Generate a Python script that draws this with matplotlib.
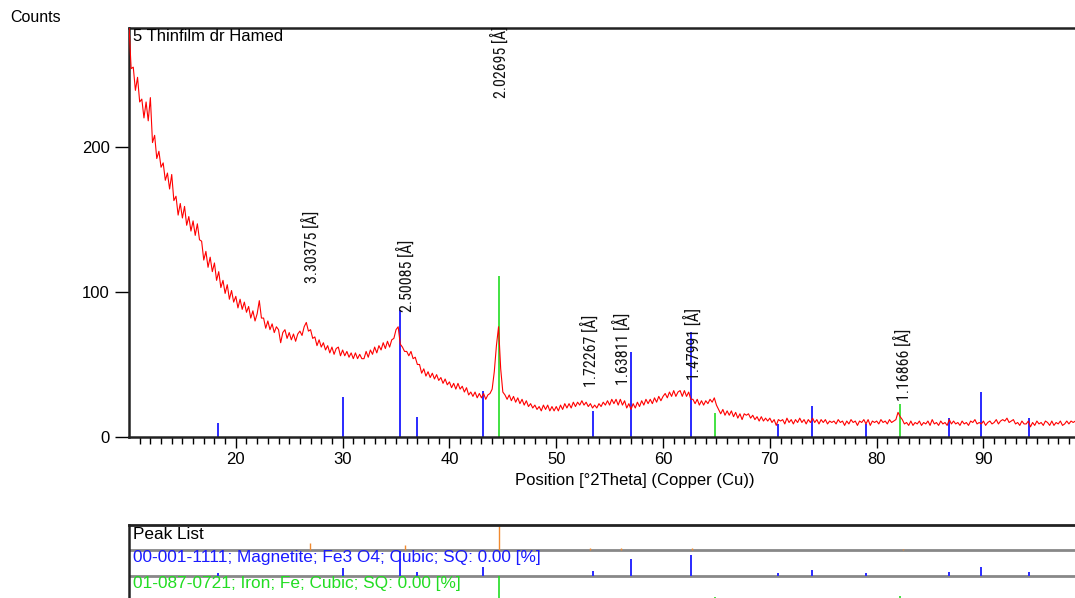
import numpy as np
import matplotlib
matplotlib.use("Agg")
import matplotlib.pyplot as plt
from matplotlib import font_manager

# measured scan, 0.2 deg step starting at 10.0 deg 2theta
scan_start = 10.0
scan_step = 0.2
counts = [
    284, 254, 255, 239, 248, 231, 233, 220, 231, 218,
    234, 203, 208, 192, 197, 186, 189, 177, 182, 171,
    181, 163, 166, 153, 161, 151, 159, 146, 152, 142,
    149, 139, 147, 136, 135, 122, 128, 117, 124, 114,
    120, 108, 114, 103, 108, 99, 105, 95, 101, 93,
    97, 89, 95, 88, 93, 86, 90, 82, 87, 80,
    85, 94, 82, 82, 75, 80, 74, 78, 72, 76,
    74, 65, 72, 74, 68, 72, 67, 71, 66, 71,
    73, 70, 76, 79, 73, 74, 68, 69, 63, 67,
    62, 65, 60, 63, 58, 62, 57, 61, 62, 56,
    60, 56, 59, 55, 58, 54, 58, 54, 57, 54,
    54, 59, 55, 60, 57, 62, 58, 63, 60, 65,
    61, 66, 62, 67, 68, 74, 76, 64, 62, 59,
    59, 56, 59, 54, 55, 50, 50, 44, 47, 42,
    45, 41, 44, 40, 43, 39, 41, 37, 40, 36,
    38, 34, 37, 33, 37, 33, 35, 31, 34, 29,
    31, 28, 31, 27, 30, 27, 30, 26, 29, 30,
    33, 45, 63, 76, 47, 31, 29, 26, 29, 25,
    28, 24, 27, 23, 26, 22, 25, 21, 23, 20,
    22, 19, 21, 18, 22, 19, 22, 18, 21, 18,
    21, 18, 22, 19, 23, 20, 23, 20, 24, 21,
    24, 22, 25, 22, 24, 21, 23, 20, 22, 20,
    23, 21, 24, 22, 25, 22, 26, 23, 26, 22,
    26, 22, 25, 20, 23, 19, 23, 20, 24, 21,
    25, 22, 26, 23, 26, 23, 27, 24, 28, 25,
    28, 30, 27, 31, 28, 32, 28, 31, 32, 28,
    32, 28, 31, 26, 26, 23, 26, 22, 25, 22,
    25, 23, 26, 24, 27, 22, 19, 16, 19, 15,
    18, 15, 18, 14, 17, 13, 16, 12, 16, 15,
    16, 13, 15, 12, 14, 11, 14, 11, 13, 11,
    13, 10, 12, 8, 12, 11, 12, 9, 13, 10,
    12, 9, 12, 10, 13, 10, 12, 9, 12, 10,
    13, 10, 12, 9, 12, 10, 12, 9, 11, 10,
    11, 9, 12, 10, 11, 8, 11, 9, 12, 10,
    11, 8, 11, 10, 12, 9, 12, 8, 11, 10,
    11, 9, 12, 10, 11, 9, 12, 10, 11, 12,
    17, 14, 12, 9, 10, 8, 11, 8, 10, 9,
    11, 8, 10, 9, 11, 8, 12, 9, 10, 8,
    11, 9, 10, 8, 12, 9, 11, 9, 10, 8,
    11, 9, 10, 8, 11, 10, 12, 9, 10, 9,
    11, 8, 10, 11, 9, 10, 12, 9, 11, 12,
    11, 13, 10, 11, 12, 9, 10, 8, 11, 9,
    9, 11, 7, 10, 8, 11, 9, 10, 8, 11,
    10, 8, 11, 8, 10, 9, 11, 8, 9, 11,
    9, 11, 10, 11,
]

# reference patterns
magnetite_pos = [18.3, 30.0, 35.4, 37.0, 43.1, 53.4, 57.0, 62.6, 70.8, 73.9, 79.0, 86.8, 89.8, 94.3]
magnetite_h = [9.7, 27.6, 87.6, 13.8, 31.5, 18.0, 58.6, 72.4, 9.0, 21.4, 9.0, 13.0, 31.0, 13.0]
iron_pos = [44.6, 64.9, 82.2]
iron_h = [111.0, 16.6, 22.8]

# peak list (observed peaks)
peak_pos = [26.97, 35.88, 44.67, 53.13, 56.10, 62.74, 82.45]
peak_d = ["3.30375", "2.50085", "2.02695", "1.72267", "1.63811", "1.47991", "1.16866"]
peak_label_y = [106, 86, 234, 34.5, 36, 39, 25]
peak_rel = [0.31, 0.23, 1.0, 0.08, 0.08, 0.08, 0.06]

red = "#ff0000"
blue = "#2a2aff"
green = "#22dd22"
orange = "#f08a30"

plt.rcParams["font.family"] = ["Liberation Sans", "DejaVu Sans"]

# narrow font for the d-spacing labels
installed = {f.name for f in font_manager.fontManager.ttflist}
lab_family = "DejaVu Sans"
for name in ["Liberation Sans Narrow", "Arial Narrow", "Roboto Condensed", "TeX Gyre Heros Cn"]:
    if name in installed:
        lab_family = name
        break
lab_fp = font_manager.FontProperties(family=[lab_family, "DejaVu Sans"], size=10)

fig = plt.figure(figsize=(10.75, 5.98), dpi=100)
W, H = 1075, 598

# scale label font so the labels are as long as in the original
probe = fig.text(0, 0, "2.50085 [Å]", fontproperties=lab_fp)
fig.canvas.draw()
lab_fp.set_size(10 * 72 / probe.get_window_extent().width)
probe.remove()

ax = fig.add_axes([129 / W, (H - 437) / H, 1 - 129 / W, (437 - 28) / H])
two_theta = scan_start + scan_step * np.arange(len(counts))
ax.plot(two_theta, counts, color=red, lw=0.8, zorder=3)
ax.vlines(magnetite_pos, 0, magnetite_h, color=blue, lw=1.4, zorder=2)
ax.vlines(iron_pos, 0, iron_h, color=green, lw=1.2, zorder=2)

for x, d, y in zip(peak_pos, peak_d, peak_label_y):
    ax.text(x, y, d + " [Å]", rotation=90, ha="center", va="bottom",
            color="#111111", zorder=4, fontproperties=lab_fp)

ax.set_xlim(10, 98.57)
ax.set_ylim(0, 282)
ax.set_xticks([20, 30, 40, 50, 60, 70, 80, 90])
ax.set_xticks(np.arange(11, 99), minor=True)
ax.set_yticks([0, 100, 200])
ax.tick_params(axis="x", which="major", direction="out", length=8, width=1, labelsize=12, pad=3)
ax.tick_params(axis="x", which="minor", direction="out", length=5, width=1)
ax.tick_params(axis="y", direction="out", length=10, width=1, labelsize=12, pad=4)
for side in ["left", "top", "bottom"]:
    ax.spines[side].set_linewidth(1.8)
    ax.spines[side].set_color("#222222")
ax.spines["right"].set_visible(False)
ax.set_xlabel("Position [°2Theta] (Copper (Cu))", fontsize=12, va="center")
ax.xaxis.set_label_coords((635 - 129) / (W - 129), -(481 - 437) / (437 - 28))
ax.text(0.004, 0.997, "5 Thinfilm dr Hamed", transform=ax.transAxes,
        ha="left", va="top", fontsize=12)
fig.text(10 / W, 1 - 18 / H, "Counts", ha="left", va="center", fontsize=11.5)

# lower panel: peak list and reference pattern rows
ax2 = fig.add_axes([129 / W, (H - 601) / H, 1 - 129 / W, 76 / H])
ax2.set_xlim(10, 98.57)
ax2.set_ylim(0, 3)
ax2.axhline(2, color="#888888", lw=2)
ax2.axhline(1, color="#888888", lw=2)
ax2.vlines(peak_pos, 2, 2 + np.array(peak_rel) * 0.98, color=orange, lw=1)
mag_rel = np.array(magnetite_h) / max(magnetite_h)
ax2.vlines(magnetite_pos, 1, 1 + mag_rel * 0.98, color=blue, lw=1.4)
iron_rel = np.array(iron_h) / max(iron_h)
ax2.vlines(iron_pos, 0, iron_rel * 0.98, color=green, lw=1.2)
ytr = ax2.get_yaxis_transform()
ax2.text(0.004, 2.64, "Peak List", transform=ytr,
         ha="left", va="center", fontsize=12.4, color="black")
ax2.text(0.004, 1.70, "00-001-1111; Magnetite; Fe3 O4; Cubic; SQ: 0.00 [%]",
         transform=ytr, ha="left", va="center", fontsize=12.4, color="#1a1aff")
ax2.text(0.004, 0.71, "01-087-0721; Iron; Fe; Cubic; SQ: 0.00 [%]",
         transform=ytr, ha="left", va="center", fontsize=12.4, color="#22dd22")
ax2.set_xticks([])
ax2.set_yticks([])
ax2.spines["bottom"].set_visible(False)
ax2.spines["right"].set_visible(False)
ax2.spines["top"].set_linewidth(2)
ax2.spines["top"].set_color("#222222")
ax2.spines["left"].set_linewidth(1.8)
ax2.spines["left"].set_color("#222222")

fig.savefig("out.png", dpi=100)
